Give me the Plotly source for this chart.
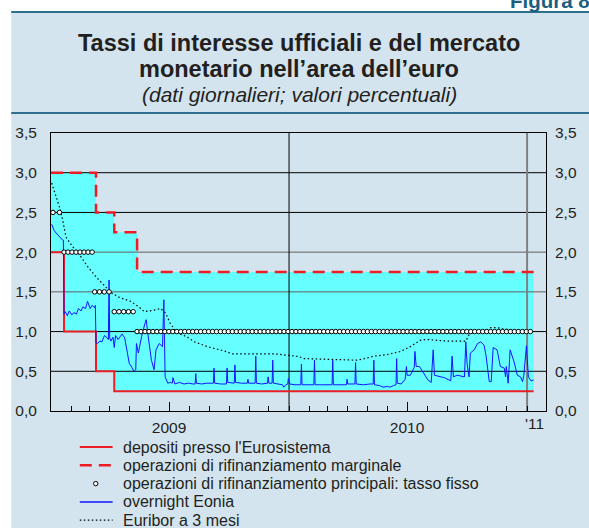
import plotly.graph_objects as go
import pandas as pd

# ---------------- DATA ----------------
# Official ECB rates (step changes; last date = end of data)
rate_dates = ["2009-01-01", "2009-01-21", "2009-03-11", "2009-04-08", "2009-05-13", "2011-01-11"]
deposit_rate = [2.0, 1.0, 0.5, 0.25, 0.25, 0.25]
marginal_rate = [3.0, 3.0, 2.5, 2.25, 1.75, 1.75]

# Main refinancing operations: fixed rate, markers drawn per period
mro_start = ["2009-01-04", "2009-01-21", "2009-03-09", "2009-04-08", "2009-05-13"]
mro_end = ["2009-01-14", "2009-03-05", "2009-03-31", "2009-05-07", "2011-01-06"]
mro_rate = [2.5, 2.0, 1.5, 1.25, 1.0]
mro_count = [2, 8, 4, 5, 100]

# Overnight Eonia
eonia_dates = [
    "2009-01-02", "2009-01-06", "2009-01-09", "2009-01-13", "2009-01-16", "2009-01-19", "2009-01-20",
    "2009-01-21", "2009-01-23", "2009-01-26", "2009-01-29", "2009-02-02", "2009-02-05", "2009-02-09",
    "2009-02-12", "2009-02-16", "2009-02-19", "2009-02-23", "2009-02-26", "2009-03-02", "2009-03-05",
    "2009-03-09", "2009-03-10", "2009-03-11", "2009-03-13", "2009-03-17", "2009-03-20", "2009-03-24",
    "2009-03-27", "2009-03-30", "2009-03-31", "2009-04-01", "2009-04-03", "2009-04-06", "2009-04-08",
    "2009-04-10", "2009-04-14", "2009-04-17", "2009-04-20", "2009-04-24", "2009-04-28", "2009-05-01",
    "2009-05-05", "2009-05-08", "2009-05-11", "2009-05-12", "2009-05-15", "2009-05-20", "2009-05-25",
    "2009-05-27", "2009-05-29", "2009-06-04", "2009-06-08", "2009-06-11", "2009-06-16", "2009-06-21",
    "2009-06-23", "2009-06-25", "2009-06-29", "2009-07-03", "2009-07-06", "2009-07-07", "2009-07-10",
    "2009-07-17", "2009-07-24", "2009-07-31", "2009-08-07", "2009-08-10", "2009-08-11", "2009-08-12",
    "2009-08-20", "2009-08-28", "2009-09-07", "2009-09-08", "2009-09-09", "2009-09-18", "2009-09-27",
    "2009-09-28", "2009-09-29", "2009-10-05", "2009-10-09", "2009-10-10", "2009-10-11", "2009-10-20",
    "2009-10-29", "2009-10-30", "2009-10-31", "2009-11-10", "2009-11-11", "2009-11-12", "2009-11-20",
    "2009-11-29", "2009-11-30", "2009-12-01", "2009-12-06", "2009-12-07", "2009-12-08", "2009-12-15",
    "2009-12-22", "2009-12-24", "2009-12-27", "2009-12-30", "2009-12-31",
    "2010-01-02", "2010-01-10", "2010-01-19", "2010-01-20", "2010-01-21", "2010-01-30", "2010-02-08",
    "2010-02-09", "2010-02-10", "2010-02-20", "2010-03-01", "2010-03-08", "2010-03-09", "2010-03-10",
    "2010-03-20", "2010-03-30", "2010-03-31", "2010-04-01", "2010-04-12", "2010-04-13", "2010-04-14",
    "2010-04-25", "2010-05-05", "2010-05-10", "2010-05-11", "2010-05-12", "2010-05-20", "2010-05-25",
    "2010-06-01", "2010-06-05", "2010-06-10", "2010-06-14", "2010-06-15", "2010-06-16", "2010-06-22",
    "2010-06-28", "2010-06-30", "2010-07-01", "2010-07-06", "2010-07-12", "2010-07-13", "2010-07-15",
    "2010-07-20", "2010-07-25", "2010-08-02", "2010-08-07", "2010-08-10", "2010-08-12", "2010-08-20",
    "2010-08-27", "2010-09-06", "2010-09-08", "2010-09-10", "2010-09-16", "2010-09-27", "2010-09-29",
    "2010-10-01", "2010-10-04", "2010-10-06", "2010-10-12", "2010-10-17", "2010-10-22", "2010-10-27",
    "2010-10-30", "2010-11-04", "2010-11-07", "2010-11-10", "2010-11-16", "2010-11-21", "2010-11-27",
    "2010-11-29", "2010-11-30", "2010-12-03", "2010-12-06", "2010-12-12", "2010-12-17", "2010-12-22",
    "2010-12-25", "2010-12-27", "2010-12-31", "2011-01-03", "2011-01-07", "2011-01-11",
]
eonia_values = [
    2.35, 2.27, 2.24, 2.20, 2.17, 2.15, 2.15,
    1.22, 1.25, 1.20, 1.26, 1.21, 1.24, 1.22,
    1.29, 1.26, 1.31, 1.29, 1.38, 1.29, 1.33,
    1.30, 1.33, 0.86, 0.85, 0.88, 0.87, 0.95,
    0.93, 0.90, 1.65, 0.92, 0.88, 0.93, 0.80,
    0.95, 0.90, 0.94, 0.97, 0.92, 0.72, 0.60,
    0.55, 0.50, 0.52, 0.85, 0.73, 0.94, 1.10,
    1.15, 1.00, 0.64, 0.52, 0.77, 0.85, 0.81,
    1.40, 0.43, 0.35, 0.36, 0.35, 0.42, 0.34,
    0.36, 0.34, 0.35, 0.34, 0.34, 0.47, 0.35,
    0.34, 0.35, 0.35, 0.54, 0.35, 0.34, 0.34,
    0.54, 0.36, 0.35, 0.35, 0.58, 0.36, 0.35,
    0.35, 0.40, 0.35, 0.35, 0.69, 0.35, 0.34,
    0.35, 0.43, 0.35, 0.35, 0.64, 0.35, 0.34,
    0.33, 0.30, 0.33, 0.34, 0.41,
    0.34, 0.33, 0.33, 0.59, 0.33, 0.33, 0.33,
    0.64, 0.33, 0.33, 0.33, 0.33, 0.64, 0.33,
    0.33, 0.33, 0.40, 0.34, 0.34, 0.61, 0.34,
    0.33, 0.34, 0.34, 0.64, 0.33, 0.32, 0.30,
    0.31, 0.30, 0.32, 0.33, 0.66, 0.35, 0.34,
    0.40, 0.56, 0.45, 0.45, 0.55, 0.75, 0.56,
    0.56, 0.50, 0.39, 0.36, 0.77, 0.45, 0.43,
    0.42, 0.38, 0.69, 0.43, 0.45, 0.43, 0.87,
    0.60, 0.43, 0.73, 0.77, 0.85, 0.87, 0.83,
    0.70, 0.37, 0.37, 0.80, 0.77, 0.56, 0.54,
    0.43, 0.56, 0.35, 0.77, 0.62, 0.45, 0.43,
    0.37, 0.45, 0.82, 0.43, 0.38, 0.39,
]

# Euribor 3 months
euribor_dates = [
    "2009-01-02", "2009-01-07", "2009-01-14", "2009-01-19", "2009-01-24", "2009-02-03", "2009-02-16",
    "2009-02-26", "2009-03-11", "2009-03-26", "2009-04-05", "2009-04-16", "2009-05-03", "2009-05-16",
    "2009-05-24", "2009-06-08", "2009-06-18", "2009-06-26", "2009-07-03", "2009-07-14", "2009-07-27",
    "2009-08-09", "2009-08-29", "2009-09-24", "2009-10-06", "2009-10-29", "2009-12-09", "2010-01-01",
    "2010-01-16", "2010-01-24", "2010-02-13", "2010-03-11", "2010-04-15", "2010-04-25", "2010-05-11",
    "2010-05-31", "2010-06-21", "2010-07-06", "2010-07-13", "2010-07-21", "2010-07-31", "2010-08-16",
    "2010-09-01", "2010-09-29", "2010-10-04", "2010-10-11", "2010-10-27", "2010-11-06", "2010-11-16",
    "2010-11-26", "2010-12-12", "2011-01-02", "2011-01-06",
]
euribor_values = [
    2.87, 2.74, 2.57, 2.40, 2.19, 2.07, 1.94,
    1.82, 1.69, 1.56, 1.48, 1.43, 1.38, 1.31,
    1.25, 1.27, 1.29, 1.23, 1.10, 0.98, 0.94,
    0.87, 0.81, 0.755, 0.72, 0.72, 0.72, 0.70,
    0.685, 0.66, 0.655, 0.64, 0.64, 0.655, 0.69,
    0.71, 0.75, 0.81, 0.85, 0.89, 0.90, 0.89,
    0.88, 0.88, 0.96, 0.99, 1.00, 1.05, 1.05,
    1.03, 1.02, 1.01, 1.01,
]

y_ticks = [0.0, 0.5, 1.0, 1.5, 2.0, 2.5, 3.0, 3.5]
year_label_dates = ["2009-07-01", "2010-07-01"]
year_labels = ["2009", "2010"]
short_year_label_date = "2011-01-12"
short_year_label = "'11"
year_lines = ["2010-01-01", "2011-01-01"]

legend_labels = [
    "depositi presso l'Eurosistema",
    "operazioni di rifinanziamento marginale",
    "operazioni di rifinanziamento principali: tasso fisso",
    "overnight Eonia",
    "Euribor a 3 mesi",
]

# ---------------- STYLE ----------------
X_START, X_END = "2009-01-01", "2011-01-30"
Y_MIN, Y_MAX = 0.0, 3.5
W, H = 589, 528
ML, MR, MT, MB = 51, 40, 133, 117
PW, PH = W - ML - MR, H - MT - MB
FONT = "Liberation Sans, Arial, sans-serif"
TXT = "#231f20"
RED = "#ee1c25"
BLUE = "#1414ff"
CYAN = "#66ffff"
PANEL = "#d3e4ee"
RULE = "#2e6e8e"


def px_x(p):
    return (p - ML) / PW


def px_y(p):
    return (MT + PH - p) / PH


mro_x, mro_y = [], []
for s, e, r, n in zip(mro_start, mro_end, mro_rate, mro_count):
    d = pd.date_range(s, e, periods=n)
    mro_x += list(d)
    mro_y += [r] * n

fig = go.Figure()

# corridor fill
fig.add_trace(go.Scatter(x=rate_dates, y=marginal_rate, mode="lines", line=dict(width=0, shape="hv"),
                         hoverinfo="skip", showlegend=False))
fig.add_trace(go.Scatter(x=rate_dates, y=deposit_rate, mode="lines", line=dict(width=0, shape="hv"),
                         fill="tonexty", fillcolor=CYAN, hoverinfo="skip", showlegend=False))

# grid lines (drawn over the fill, as in the original)
grid_black = [v for v in y_ticks if v in (0.5, 1.0, 2.5, 3.0)]
grid_grey = [v for v in y_ticks if v in (1.5, 2.0)]


def hlines(vals):
    xs, ys = [], []
    for v in vals:
        xs += [X_START, X_END, None]
        ys += [v, v, None]
    return xs, ys


gx, gy = hlines(grid_black)
fig.add_trace(go.Scatter(x=gx, y=gy, mode="lines", line=dict(color="black", width=1),
                         hoverinfo="skip", showlegend=False))
gx, gy = hlines(grid_grey)
fig.add_trace(go.Scatter(x=gx, y=gy, mode="lines", line=dict(color="#5e5e5e", width=1),
                         hoverinfo="skip", showlegend=False))
fig.add_trace(go.Scatter(x=[year_lines[0], year_lines[0]], y=[Y_MIN, Y_MAX], mode="lines",
                         line=dict(color="black", width=1), hoverinfo="skip", showlegend=False))
fig.add_trace(go.Scatter(x=[year_lines[1], year_lines[1]], y=[Y_MIN, Y_MAX], mode="lines",
                         line=dict(color="#808080", width=2), hoverinfo="skip", showlegend=False))

# official rates
fig.add_trace(go.Scatter(x=rate_dates, y=deposit_rate, mode="lines", name=legend_labels[0],
                         line=dict(color=RED, width=2, shape="hv")))
fig.add_trace(go.Scatter(x=rate_dates, y=marginal_rate, mode="lines", name=legend_labels[1],
                         line=dict(color=RED, width=2.5, shape="hv", dash="12px,7px")))
# market rates
fig.add_trace(go.Scatter(x=euribor_dates, y=euribor_values, mode="lines", name=legend_labels[4],
                         line=dict(color="black", width=1.2, dash="1.5px,2.5px")))
fig.add_trace(go.Scatter(x=eonia_dates, y=eonia_values, mode="lines", name=legend_labels[3],
                         line=dict(color=BLUE, width=1)))
# MRO markers on overlaid axis (drawn on top)
fig.add_trace(go.Scatter(x=mro_x, y=mro_y, mode="markers", name=legend_labels[2], yaxis="y2",
                         marker=dict(symbol="circle", size=4.5, color="white",
                                     line=dict(color="black", width=1))))

shapes = [
    dict(type="rect", xref="paper", yref="paper", x0=px_x(11), x1=px_x(W + 5), y0=px_y(H + 5), y1=px_y(12),
         fillcolor=PANEL, line=dict(width=0), layer="below"),
    dict(type="line", xref="paper", yref="paper", x0=px_x(11), x1=px_x(W + 5), y0=px_y(12), y1=px_y(12),
         line=dict(color=RULE, width=2)),
    dict(type="line", xref="paper", yref="paper", x0=px_x(11), x1=px_x(W + 5), y0=px_y(113), y1=px_y(113),
         line=dict(color=RULE, width=2)),
]

annotations = [
    dict(text="<b>Figura 8</b>", xref="paper", yref="paper", x=px_x(511), y=px_y(0), xanchor="left",
         yanchor="middle", showarrow=False, font=dict(family=FONT, size=20.5, color="#1b5e7e")),
    dict(text="<b>Tassi di interesse ufficiali e del mercato</b>", xref="paper", yref="paper", x=px_x(301),
         y=px_y(43), xanchor="center", yanchor="middle", showarrow=False,
         font=dict(family=FONT, size=23.5, color=TXT)),
    dict(text="<b>monetario nell\u2019area dell\u2019euro</b>", xref="paper", yref="paper", x=px_x(301),
         y=px_y(69), xanchor="center", yanchor="middle", showarrow=False,
         font=dict(family=FONT, size=23.5, color=TXT)),
    dict(text="<i>(dati giornalieri; valori percentuali)</i>", xref="paper", yref="paper", x=px_x(301),
         y=px_y(95), xanchor="center", yanchor="middle", showarrow=False,
         font=dict(family=FONT, size=21, color=TXT)),
    dict(text=short_year_label, xref="x", yref="paper", x=short_year_label_date, y=px_y(423),
         xanchor="center", yanchor="middle", showarrow=False, font=dict(family=FONT, size=15.5, color=TXT)),
]

# manual legend (compact rows as in the original)
rows = [447, 465.3, 483.6, 501.9, 520.2]
sample_styles = [
    dict(color=RED, width=2),
    dict(color=RED, width=2.5, dash="12px,7px"),
    None,
    dict(color=BLUE, width=1.5),
    dict(color="black", width=1.2, dash="1.5px,2.5px"),
]
for label, row, st in zip(legend_labels, rows, sample_styles):
    if st is None:
        shapes.append(dict(type="circle", xref="paper", yref="paper", xsizemode="pixel", ysizemode="pixel",
                           xanchor=px_x(96), yanchor=px_y(row), x0=-2.2, x1=2.2, y0=-2.2, y1=2.2,
                           fillcolor="white", line=dict(color="black", width=1)))
    else:
        shapes.append(dict(type="line", xref="paper", yref="paper", x0=px_x(80), x1=px_x(113),
                           y0=px_y(row), y1=px_y(row), line=st))
    annotations.append(dict(text=label, xref="paper", yref="paper", x=px_x(121), y=px_y(row),
                            xanchor="left", yanchor="middle", showarrow=False,
                            font=dict(family=FONT, size=16, color=TXT)))

fig.update_layout(
    width=W, height=H, autosize=False,
    margin=dict(l=ML, r=MR, t=MT, b=MB, pad=0),
    paper_bgcolor="white", plot_bgcolor="white",
    separators=",.",
    showlegend=False,
    font=dict(family=FONT, size=15.5, color=TXT),
    xaxis=dict(type="date", range=[X_START, X_END], showgrid=False, zeroline=False,
               showline=True, linecolor="black", linewidth=1, mirror=True,
               tickmode="array", tickvals=year_label_dates, ticktext=year_labels,
               ticks="inside", ticklen=9, tickcolor="black", tickwidth=1,
               minor=dict(ticks="inside", ticklen=5, tickcolor="black", tickwidth=1,
                          tickmode="linear", tick0=X_START, dtick="M1", showgrid=False),
               tickfont=dict(family=FONT, size=15.5, color=TXT), ticklabelstandoff=2),
    yaxis=dict(range=[Y_MIN, Y_MAX], showgrid=False, zeroline=False, showline=True, linecolor="black",
               linewidth=1, mirror=True, tickmode="array", tickvals=y_ticks, tickformat=".1f",
               ticks="", ticklabelstandoff=10, tickfont=dict(family=FONT, size=15.5, color=TXT)),
    yaxis2=dict(range=[Y_MIN, Y_MAX], overlaying="y", side="right", showgrid=False, zeroline=False,
                showline=False, tickmode="array", tickvals=y_ticks, tickformat=".1f", ticks="",
                ticklabelstandoff=8, tickfont=dict(family=FONT, size=15.5, color=TXT)),
    shapes=shapes,
    annotations=annotations,
)

fig.write_html("out.html", config={"displayModeBar": False},
               post_script="document.body.style.margin='0';document.body.style.padding='0';")
